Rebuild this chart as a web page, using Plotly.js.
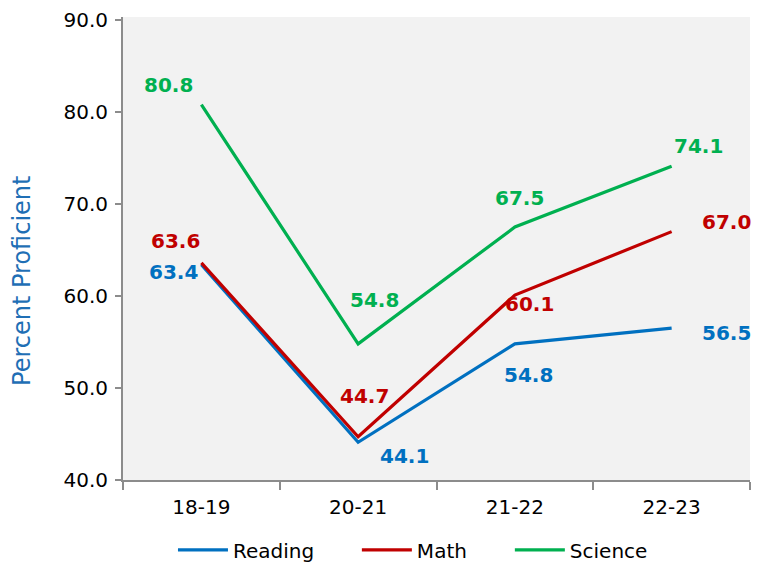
<!DOCTYPE html>
<html>
<head>
<meta charset="utf-8">
<script src="https://cdn.plot.ly/plotly-3.0.1.min.js"></script>
<style>html,body{margin:0;padding:0;background:#fff}#chart{width:757px;height:562px}</style>
</head>
<body>
<div id="chart"></div>
<script>
const years = ["18-19", "20-21", "21-22", "22-23"];
const reading = [63.4, 44.1, 54.8, 56.5];
const math = [63.6, 44.7, 60.1, 67.0];
const science = [80.8, 54.8, 67.5, 74.1];
const yTicks = [40, 50, 60, 70, 80, 90];

const colors = {Reading: "#0070C0", Math: "#C00000", Science: "#00B050"};
// label offsets (pixels) relative to each point
const offsets = {
  Reading: [[-28, -7], [46, -14], [14, -31], [55, -5]],
  Math: [[-26, 22], [6, 41], [15, -9], [55, 10]],
  Science: [[-33, 20], [16, 44], [5, 29], [27, 20]]
};
const series = [["Reading", reading, "legend"], ["Math", math, "legend2"], ["Science", science, "legend3"]];

const traces = series.map(([name, vals, lg]) => ({
  type: "scatter", mode: "lines", name: name, x: years, y: vals, legend: lg,
  line: {color: colors[name], width: 3.2}, hoverinfo: "skip"
}));

const annotations = [];
series.forEach(([name, vals]) => {
  vals.forEach((v, i) => {
    annotations.push({
      x: years[i], y: v, xref: "x", yref: "y", text: v.toFixed(1), showarrow: false,
      xshift: offsets[name][i][0], yshift: offsets[name][i][1],
      font: {family: "DejaVu Sans", size: 20, color: colors[name], weight: "bold"}
    });
  });
});
// y-axis title (placed as rotated text, as in the reference it sits below centre)
annotations.push({
  text: "Percent Proficient", xref: "paper", yref: "paper", x: 0, y: 0.43,
  xanchor: "center", yanchor: "middle", xshift: -101, textangle: -90, showarrow: false,
  font: {family: "DejaVu Sans", size: 24, color: "#1F6FB5"}
});

const legendBase = {orientation: "h", xanchor: "left", y: -0.151, yanchor: "middle",
  font: {family: "DejaVu Sans", size: 20, color: "#000"}, itemwidth: 50, bgcolor: "rgba(0,0,0,0)"};

const layout = {
  width: 757, height: 562,
  margin: {l: 123, r: 7, t: 17, b: 82, autoexpand: false},
  paper_bgcolor: "#ffffff", plot_bgcolor: "#f2f2f2",
  font: {family: "DejaVu Sans", size: 20, color: "#000"},
  showlegend: true,
  legend: Object.assign({}, legendBase, {x: 0.0797}),
  legend2: Object.assign({}, legendBase, {x: 0.373}),
  legend3: Object.assign({}, legendBase, {x: 0.617}),
  xaxis: {type: "category", range: [-0.5, 3.5], showgrid: false, zeroline: false,
    showline: true, linecolor: "#8c8c8c", linewidth: 2, ticks: "outside", ticklen: 8,
    tickcolor: "#8c8c8c", tickwidth: 2, tickson: "boundaries", ticklabelstandoff: 8,
    tickfont: {family: "DejaVu Sans", size: 20, color: "#000"}},
  yaxis: {range: [40, 90.33], tickvals: yTicks, ticktext: yTicks.map(v => v.toFixed(1)),
    showgrid: false, zeroline: false, showline: true, linecolor: "#8c8c8c", linewidth: 2,
    ticks: "outside", ticklen: 6, tickcolor: "#8c8c8c", tickwidth: 2, ticklabelstandoff: 3,
    tickfont: {family: "DejaVu Sans", size: 20, color: "#000"}},
  annotations: annotations
};

Plotly.newPlot("chart", traces, layout, {displayModeBar: false, staticPlot: true});
</script>
</body>
</html>
